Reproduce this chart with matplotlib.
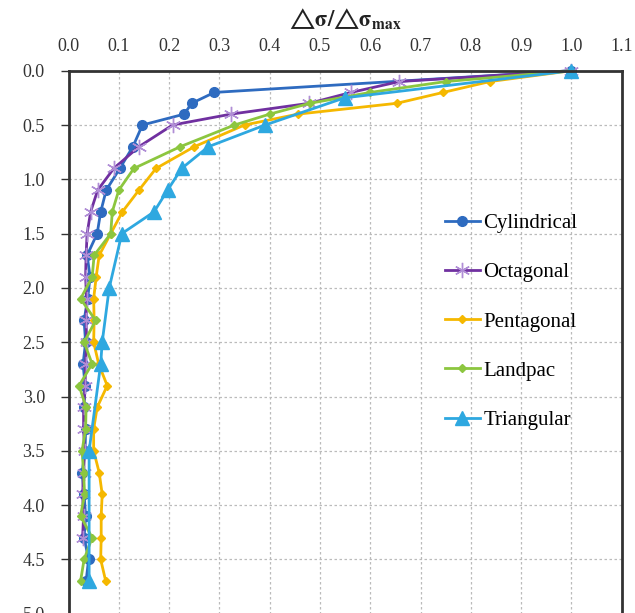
import matplotlib
matplotlib.use("Agg")
import matplotlib.pyplot as plt

# ---- data ----
cyl_depth = [0, 0.2, 0.3, 0.4, 0.5, 0.7, 0.9, 1.1, 1.3, 1.5, 1.7, 1.9, 2.1, 2.3, 2.5, 2.7,
             2.9, 3.1, 3.3, 3.5, 3.7, 3.9, 4.1, 4.3, 4.5, 4.7]
cyl_val = [1.0, 0.29, 0.245, 0.23, 0.147, 0.128, 0.102, 0.075, 0.064, 0.057, 0.037, 0.043,
           0.038, 0.031, 0.034, 0.029, 0.033, 0.031, 0.034, 0.033, 0.027, 0.031, 0.034, 0.031,
           0.040, 0.035]

oct_depth = [0, 0.1, 0.2, 0.3, 0.4, 0.5, 0.7, 0.9, 1.1, 1.3, 1.5, 1.7, 1.9, 2.1, 2.3, 2.5,
             2.7, 2.9, 3.1, 3.3, 3.5, 3.7, 3.9, 4.1, 4.3]
oct_val = [1.0, 0.658, 0.562, 0.479, 0.323, 0.207, 0.140, 0.090, 0.058, 0.044, 0.037, 0.035,
           0.034, 0.036, 0.035, 0.036, 0.034, 0.033, 0.030, 0.030, 0.032, 0.030, 0.028, 0.030,
           0.028]

pent_depth = [0, 0.1, 0.2, 0.3, 0.4, 0.5, 0.7, 0.9, 1.1, 1.3, 1.5, 1.7, 1.9, 2.1, 2.3, 2.5,
              2.7, 2.9, 3.1, 3.3, 3.5, 3.7, 3.9, 4.1, 4.3, 4.5, 4.7]
pent_val = [1.0, 0.838, 0.745, 0.653, 0.456, 0.35, 0.25, 0.174, 0.14, 0.107, 0.084, 0.061,
            0.055, 0.050, 0.051, 0.050, 0.060, 0.077, 0.057, 0.050, 0.050, 0.061, 0.067, 0.065,
            0.065, 0.064, 0.074]

land_depth = [0, 0.1, 0.2, 0.3, 0.4, 0.5, 0.7, 0.9, 1.1, 1.3, 1.5, 1.7, 1.9, 2.1, 2.3, 2.5,
              2.7, 2.9, 3.1, 3.3, 3.5, 3.7, 3.9, 4.1, 4.3, 4.5, 4.7]
land_val = [1.0, 0.75, 0.60, 0.48, 0.40, 0.33, 0.222, 0.13, 0.10, 0.087, 0.084, 0.051, 0.047,
            0.024, 0.054, 0.031, 0.047, 0.021, 0.035, 0.034, 0.027, 0.030, 0.032, 0.024, 0.047,
            0.031, 0.024]

tri_depth = [0, 0.25, 0.5, 0.7, 0.9, 1.1, 1.3, 1.5, 2.0, 2.5, 2.7, 3.5, 4.7]
tri_val = [1.0, 0.549, 0.391, 0.278, 0.225, 0.197, 0.17, 0.106, 0.081, 0.067, 0.064, 0.041,
           0.041]

series_names = ["Cylindrical", "Octagonal", "Pentagonal", "Landpac", "Triangular"]
x_ticks = [0.0, 0.1, 0.2, 0.3, 0.4, 0.5, 0.6, 0.7, 0.8, 0.9, 1.0, 1.1]
y_ticks = [0.0, 0.5, 1.0, 1.5, 2.0, 2.5, 3.0, 3.5, 4.0, 4.5, 5.0]

serif = ["Liberation Serif", "DejaVu Serif"]
plt.rcParams["font.family"] = serif
plt.rcParams["mathtext.fontset"] = "stix"

fig = plt.figure(figsize=(6.35, 6.13), dpi=100)
W, H = 635, 613
left, right, top, bottom = 68.5, 621.7, 70.7, 613.7
ax = fig.add_axes([left / W, (H - bottom) / H, (right - left) / W, (bottom - top) / H])

styles = [
    dict(color="#2E6BC0", marker="o", ms=7, mfc="#2E6BC0", mec="#2E6BC0"),
    dict(color="#7030A0", marker=(6, 2, 0), ms=11, mec="#B08ED6", mew=1.0),
    dict(color="#F5B800", marker="D", ms=4.5, mfc="#F5B800", mec="#F5B800"),
    dict(color="#8CC63F", marker="D", ms=4.5, mfc="#8CC63F", mec="#8CC63F"),
    dict(color="#2EA8E0", marker="^", ms=10, mfc="#2EA8E0", mec="#2EA8E0"),
]
data = [(cyl_val, cyl_depth), (oct_val, oct_depth), (pent_val, pent_depth),
        (land_val, land_depth), (tri_val, tri_depth)]
for (xv, yv), name, st in zip(data, series_names, styles):
    ax.plot(xv, yv, lw=2.0, label=name, clip_on=False, **st)

ax.set_xlim(0, 1.1)
ax.set_ylim(5.0, 0)
ax.set_xticks(x_ticks)
ax.set_yticks(y_ticks)
ax.set_xticklabels([f"{v:.1f}" for v in x_ticks])
ax.set_yticklabels([f"{v:.1f}" for v in y_ticks])
ax.xaxis.tick_top()
ax.tick_params(axis="both", labelsize=13, colors="#333333", width=1, direction="out")
ax.tick_params(axis="x", pad=11, length=0)
ax.tick_params(axis="y", pad=11, length=6)
ax.grid(True, color="#BBBBBB", linestyle=(0, (2, 2)), linewidth=0.9)
ax.set_axisbelow(True)
for sp in ax.spines.values():
    sp.set_color("#333333")
    sp.set_linewidth(2.0)

leg = ax.legend(loc="upper left", bbox_to_anchor=(0.665, 0.752), frameon=False,
                fontsize=15, handlelength=1.7, handletextpad=0.15, labelspacing=1.42,
                borderaxespad=0)

fig.text((left + right) / 2 / W, 1 - 19 / H,
         r"$\mathbf{{\bigtriangleup}\sigma/{\bigtriangleup}\sigma_{max}}$",
         ha="center", va="center", fontsize=16, color="#222222")

fig.savefig("out.png", dpi=100)
